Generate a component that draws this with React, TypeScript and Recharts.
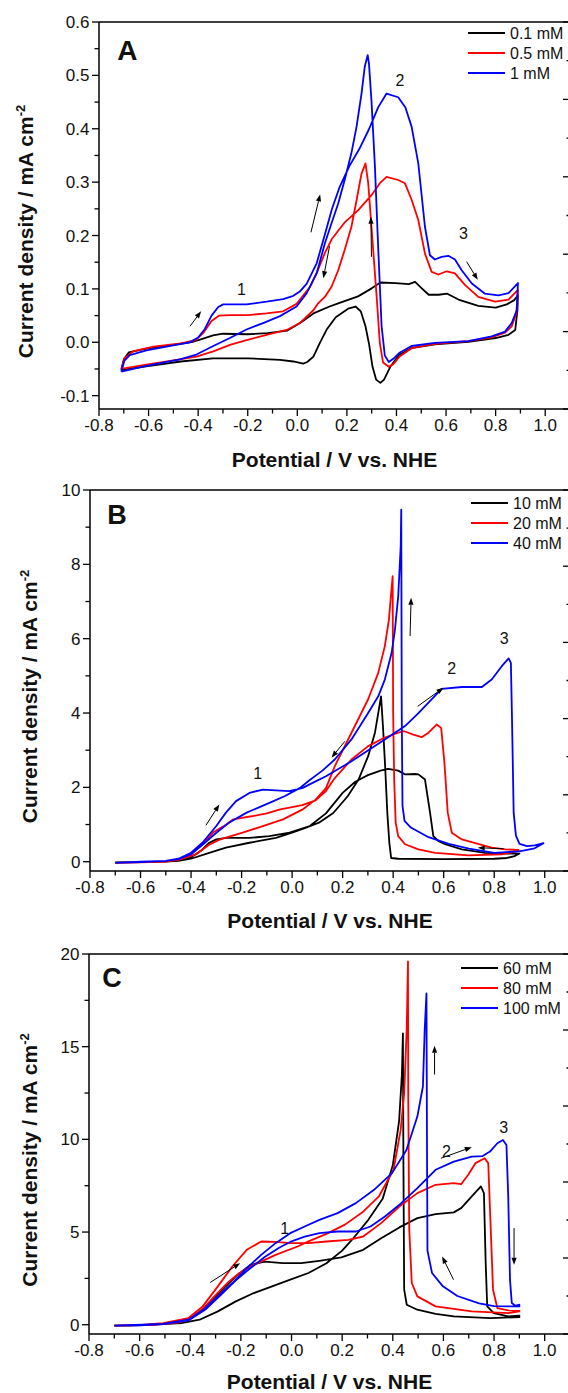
import React from "react";
import {
  LineChart,
  Line,
  XAxis,
  YAxis,
  Legend,
  ReferenceLine,
  ReferenceDot,
} from "recharts";

type Pt = [number, number];

// ---- panel A: 0.1 / 0.5 / 1 mM ----
const aBlack: Pt[] = [
  [-0.71, -0.052], [-0.7, -0.032], [-0.68, -0.019], [-0.61, -0.012], [-0.5, -0.005], [-0.42, 0.001],
  [-0.38, 0.007], [-0.34, 0.013], [-0.3, 0.016], [-0.2, 0.015], [-0.12, 0.017], [-0.04, 0.022],
  [0.011, 0.036], [0.065, 0.054], [0.13, 0.067], [0.165, 0.073], [0.245, 0.086], [0.3, 0.101],
  [0.335, 0.112], [0.395, 0.111], [0.45, 0.109], [0.475, 0.113], [0.5, 0.102], [0.53, 0.089],
  [0.57, 0.089], [0.605, 0.091], [0.65, 0.08], [0.73, 0.068], [0.8, 0.065], [0.845, 0.071],
  [0.875, 0.079], [0.89, 0.088],
  [0.888, 0.06], [0.879, 0.023], [0.852, 0.014], [0.8, 0.008], [0.69, 0.001], [0.555, -0.004],
  [0.46, -0.011], [0.41, -0.024], [0.375, -0.046], [0.35, -0.07], [0.335, -0.076], [0.318, -0.07],
  [0.303, -0.045], [0.29, -0.005], [0.275, 0.03], [0.256, 0.058], [0.235, 0.067], [0.205, 0.063],
  [0.155, 0.047], [0.12, 0.025], [0.09, -0.002], [0.065, -0.027], [0.04, -0.037], [0.024, -0.04],
  [-0.016, -0.036], [-0.07, -0.033], [-0.2, -0.03], [-0.34, -0.03], [-0.47, -0.036], [-0.61, -0.045],
  [-0.71, -0.052],
];
const aRed: Pt[] = [
  [-0.71, -0.05], [-0.697, -0.03], [-0.663, -0.017], [-0.58, -0.008], [-0.47, -0.002], [-0.41, 0.004],
  [-0.38, 0.017], [-0.346, 0.04], [-0.315, 0.05], [-0.27, 0.051], [-0.2, 0.051], [-0.124, 0.054],
  [-0.057, 0.058], [-0.003, 0.072], [0.05, 0.103], [0.08, 0.132], [0.11, 0.166], [0.14, 0.194],
  [0.19, 0.224], [0.245, 0.247], [0.3, 0.276], [0.333, 0.298], [0.36, 0.31], [0.407, 0.304],
  [0.434, 0.298], [0.461, 0.267], [0.488, 0.229], [0.515, 0.166], [0.542, 0.132], [0.569, 0.127],
  [0.603, 0.133], [0.636, 0.129], [0.677, 0.107], [0.73, 0.085], [0.798, 0.076], [0.852, 0.08],
  [0.89, 0.098],
  [0.884, 0.055], [0.865, 0.03], [0.838, 0.018], [0.784, 0.009], [0.69, 0.002], [0.555, -0.003],
  [0.461, -0.011], [0.414, -0.026], [0.387, -0.041], [0.369, -0.046], [0.346, -0.038], [0.333, -0.002],
  [0.319, 0.092], [0.299, 0.217], [0.286, 0.298], [0.275, 0.335], [0.259, 0.316], [0.239, 0.266],
  [0.218, 0.216], [0.191, 0.173], [0.165, 0.135], [0.138, 0.104], [0.111, 0.085], [0.084, 0.073],
  [0.065, 0.06], [0.01, 0.036], [-0.043, 0.023], [-0.124, 0.014], [-0.205, 0.004], [-0.272, -0.005],
  [-0.339, -0.017], [-0.407, -0.027], [-0.474, -0.032], [-0.609, -0.042], [-0.71, -0.05],
];
const aBlue: Pt[] = [
  [-0.71, -0.055], [-0.698, -0.035], [-0.676, -0.024], [-0.609, -0.015], [-0.5, -0.006], [-0.434, 0.0],
  [-0.4, 0.009], [-0.373, 0.025], [-0.346, 0.05], [-0.319, 0.066], [-0.299, 0.071], [-0.205, 0.071],
  [-0.124, 0.076], [-0.057, 0.081], [-0.016, 0.087], [0.01, 0.095], [0.038, 0.11], [0.078, 0.148],
  [0.11, 0.2], [0.14, 0.25], [0.17, 0.29], [0.21, 0.33], [0.25, 0.362], [0.29, 0.4], [0.326, 0.44],
  [0.36, 0.466], [0.407, 0.459], [0.436, 0.44], [0.461, 0.404], [0.488, 0.335], [0.515, 0.216],
  [0.535, 0.163], [0.555, 0.155], [0.582, 0.16], [0.609, 0.162], [0.636, 0.155], [0.663, 0.135],
  [0.704, 0.11], [0.757, 0.091], [0.811, 0.088], [0.852, 0.092], [0.89, 0.111],
  [0.885, 0.06], [0.865, 0.036], [0.838, 0.02], [0.784, 0.011], [0.69, 0.002], [0.555, -0.001],
  [0.461, -0.007], [0.414, -0.019], [0.387, -0.031], [0.369, -0.037], [0.353, -0.025], [0.34, 0.03],
  [0.326, 0.18], [0.313, 0.33], [0.299, 0.454], [0.289, 0.522], [0.284, 0.538], [0.272, 0.516],
  [0.259, 0.466], [0.239, 0.404], [0.218, 0.354], [0.191, 0.304], [0.165, 0.26], [0.138, 0.223],
  [0.111, 0.185], [0.078, 0.129], [0.038, 0.092], [-0.003, 0.067], [-0.07, 0.049], [-0.138, 0.036],
  [-0.205, 0.024], [-0.272, 0.008], [-0.339, -0.007], [-0.407, -0.023], [-0.474, -0.032],
  [-0.609, -0.044], [-0.71, -0.055],
];

// ---- panel B: 10 / 20 / 40 mM ----
const bBlack: Pt[] = [
  [-0.7, -0.02], [-0.6, -0.01], [-0.5, 0.0], [-0.45, 0.03], [-0.4, 0.12], [-0.36, 0.3], [-0.33, 0.5],
  [-0.3, 0.6], [-0.26, 0.64], [-0.17, 0.64], [-0.09, 0.69], [-0.01, 0.78], [0.07, 0.96], [0.134, 1.3],
  [0.2, 1.85], [0.25, 2.15], [0.3, 2.33], [0.35, 2.45], [0.38, 2.5], [0.42, 2.45], [0.447, 2.35],
  [0.486, 2.36], [0.5, 2.35], [0.526, 2.21], [0.546, 1.32], [0.559, 0.69], [0.58, 0.55], [0.606, 0.47],
  [0.672, 0.33], [0.764, 0.24], [0.85, 0.22], [0.9, 0.22],
  [0.88, 0.15], [0.85, 0.1], [0.8, 0.08], [0.6, 0.07], [0.42, 0.08], [0.392, 0.1], [0.385, 0.5],
  [0.377, 1.3], [0.368, 2.6], [0.36, 3.6], [0.352, 4.45], [0.341, 4.0], [0.328, 3.47], [0.301, 2.84],
  [0.263, 2.21], [0.22, 1.76], [0.163, 1.31], [0.106, 1.05], [0.05, 0.9], [0.0, 0.78], [-0.064, 0.64],
  [-0.169, 0.51], [-0.262, 0.38], [-0.328, 0.24], [-0.4, 0.08], [-0.45, 0.02], [-0.5, 0.0],
  [-0.6, -0.01], [-0.7, -0.02],
];
const bRed: Pt[] = [
  [-0.7, -0.03], [-0.6, -0.02], [-0.5, 0.0], [-0.45, 0.05], [-0.4, 0.2], [-0.35, 0.5], [-0.31, 0.8],
  [-0.272, 0.95], [-0.232, 1.14], [-0.2, 1.18], [-0.153, 1.23], [-0.1, 1.3], [-0.047, 1.41],
  [0.0, 1.47], [0.04, 1.52], [0.093, 1.65], [0.134, 1.9], [0.169, 2.25], [0.235, 2.75], [0.301, 3.11],
  [0.367, 3.34], [0.42, 3.47], [0.444, 3.51], [0.48, 3.42], [0.513, 3.35], [0.54, 3.47], [0.572, 3.69],
  [0.59, 3.6], [0.603, 2.66], [0.616, 1.32], [0.632, 0.78], [0.672, 0.6], [0.725, 0.5], [0.79, 0.38],
  [0.844, 0.33], [0.896, 0.32],
  [0.896, 0.29], [0.83, 0.2], [0.698, 0.17], [0.566, 0.24], [0.5, 0.33], [0.447, 0.47], [0.42, 0.69],
  [0.41, 1.05], [0.404, 2.21], [0.4, 4.0], [0.398, 7.68], [0.391, 7.14], [0.383, 6.5], [0.367, 5.8],
  [0.341, 5.08], [0.301, 4.37], [0.235, 3.47], [0.169, 2.57], [0.134, 1.98], [0.093, 1.67],
  [0.04, 1.4], [-0.036, 1.14], [-0.116, 0.96], [-0.196, 0.78], [-0.285, 0.6], [-0.33, 0.45],
  [-0.38, 0.2], [-0.45, 0.05], [-0.5, 0.0], [-0.6, -0.02], [-0.7, -0.03],
];
const bBlue: Pt[] = [
  [-0.7, -0.03], [-0.6, -0.01], [-0.5, 0.02], [-0.45, 0.08], [-0.4, 0.24], [-0.355, 0.51], [-0.3, 0.96],
  [-0.262, 1.32], [-0.222, 1.63], [-0.169, 1.85], [-0.116, 1.94], [-0.064, 1.92], [-0.012, 1.9],
  [0.04, 1.98], [0.093, 2.16], [0.134, 2.3], [0.235, 2.7], [0.367, 3.29], [0.447, 3.65], [0.5, 4.0],
  [0.592, 4.65], [0.672, 4.7], [0.751, 4.7], [0.79, 4.9], [0.83, 5.26], [0.857, 5.47], [0.866, 5.35],
  [0.87, 4.0], [0.877, 1.32], [0.886, 0.7], [0.9, 0.48], [0.93, 0.42], [0.96, 0.44], [0.995, 0.5],
  [0.96, 0.36], [0.9, 0.28], [0.8, 0.24], [0.7, 0.35], [0.62, 0.48], [0.54, 0.66], [0.47, 0.92],
  [0.445, 1.1], [0.437, 1.5], [0.434, 4.0], [0.432, 9.47], [0.43, 8.5], [0.42, 7.14], [0.407, 6.24],
  [0.394, 5.62], [0.367, 4.9], [0.341, 4.45], [0.301, 4.0], [0.235, 3.29], [0.169, 2.75], [0.12, 2.45],
  [0.07, 2.2], [0.03, 1.98], [-0.03, 1.76], [-0.074, 1.63], [-0.18, 1.32], [-0.25, 1.05], [-0.3, 0.78],
  [-0.35, 0.48], [-0.4, 0.2], [-0.45, 0.07], [-0.5, 0.02], [-0.6, 0.0], [-0.7, -0.03],
];

// ---- panel C: 60 / 80 / 100 mM ----
const cBlack: Pt[] = [
  [-0.7, -0.05], [-0.6, -0.03], [-0.507, 0.05], [-0.407, 0.27], [-0.337, 0.99], [-0.28, 1.8],
  [-0.22, 2.61], [-0.163, 3.23], [-0.106, 3.4], [-0.034, 3.32], [0.038, 3.32], [0.11, 3.45],
  [0.197, 3.63], [0.283, 4.04], [0.354, 4.67], [0.426, 5.25], [0.497, 5.75], [0.569, 5.97],
  [0.641, 6.06], [0.67, 6.29], [0.712, 6.92], [0.748, 7.46], [0.76, 7.1], [0.767, 3.32], [0.773, 0.99],
  [0.799, 0.63], [0.856, 0.45], [0.9, 0.49],
  [0.9, 0.41], [0.785, 0.36], [0.641, 0.45], [0.569, 0.59], [0.497, 0.81], [0.455, 1.08], [0.445, 1.89],
  [0.442, 8.7], [0.44, 15.72], [0.436, 13.5], [0.425, 11.0], [0.4, 8.6], [0.36, 6.8], [0.3, 5.6],
  [0.24, 4.6], [0.2, 4.0], [0.138, 3.32], [0.067, 2.79], [-0.005, 2.43], [-0.077, 2.07], [-0.149, 1.71],
  [-0.22, 1.26], [-0.291, 0.72], [-0.363, 0.27], [-0.435, 0.09], [-0.579, -0.02], [-0.7, -0.05],
];
const cRed: Pt[] = [
  [-0.7, -0.05], [-0.6, -0.02], [-0.507, 0.09], [-0.407, 0.36], [-0.351, 0.99], [-0.291, 2.07],
  [-0.234, 3.14], [-0.177, 4.04], [-0.12, 4.49], [-0.063, 4.47], [-0.005, 4.4], [0.067, 4.4],
  [0.138, 4.49], [0.225, 4.58], [0.283, 4.76], [0.354, 5.48], [0.426, 6.38], [0.497, 7.1],
  [0.569, 7.55], [0.641, 7.64], [0.67, 7.58], [0.698, 8.09], [0.727, 8.72], [0.763, 8.98],
  [0.777, 8.72], [0.787, 5.12], [0.796, 1.89], [0.813, 0.9], [0.856, 0.77], [0.9, 0.75],
  [0.9, 0.72], [0.856, 0.63], [0.712, 0.72], [0.569, 0.99], [0.497, 1.53], [0.475, 2.25], [0.465, 5.12],
  [0.461, 12.3], [0.46, 19.6], [0.455, 16.0], [0.445, 12.5], [0.431, 10.5], [0.403, 8.36],
  [0.345, 6.92], [0.283, 6.1], [0.211, 5.4], [0.138, 4.9], [0.067, 4.5], [0.024, 4.22], [-0.063, 3.77],
  [-0.149, 3.23], [-0.206, 2.79], [-0.25, 2.3], [-0.3, 1.6], [-0.35, 0.85], [-0.4, 0.3], [-0.45, 0.12],
  [-0.55, 0.0], [-0.7, -0.05],
];
const cBlue: Pt[] = [
  [-0.7, -0.05], [-0.6, -0.03], [-0.507, 0.04], [-0.407, 0.23], [-0.337, 0.85], [-0.28, 1.6],
  [-0.22, 2.4], [-0.163, 3.05], [-0.106, 3.65], [-0.049, 4.15], [0.0, 4.5], [0.052, 4.75],
  [0.11, 4.94], [0.182, 5.03], [0.254, 5.03], [0.312, 5.3], [0.369, 5.84], [0.426, 6.47],
  [0.497, 7.37], [0.569, 8.36], [0.641, 8.8], [0.712, 9.07], [0.755, 9.1], [0.784, 9.34],
  [0.813, 9.79], [0.835, 9.97], [0.849, 9.7], [0.856, 6.92], [0.863, 2.43], [0.87, 1.17],
  [0.884, 1.02], [0.9, 1.08],
  [0.9, 0.99], [0.8, 1.0], [0.741, 1.15], [0.655, 1.55], [0.598, 2.07], [0.555, 2.79], [0.537, 4.0],
  [0.535, 10.0], [0.533, 17.88], [0.526, 15.9], [0.519, 12.85], [0.497, 11.23], [0.454, 9.43],
  [0.397, 8.18], [0.326, 7.28], [0.254, 6.56], [0.182, 6.02], [0.11, 5.66], [0.052, 5.3],
  [-0.005, 4.94], [-0.063, 4.4], [-0.12, 3.77], [-0.177, 3.05], [-0.234, 2.25], [-0.291, 1.53],
  [-0.348, 0.81], [-0.407, 0.27], [-0.507, 0.04], [-0.7, -0.05],
];

const aNames = ["0.1 mM", "0.5 mM", "1 mM"];
const bNames = ["10 mM", "20 mM", "40 mM"];
const cNames = ["60 mM", "80 mM", "100 mM"];
const colors = ["#000000", "#ff0000", "#0000ff"];

const xTicks = [-0.8, -0.7, -0.6, -0.5, -0.4, -0.3, -0.2, -0.1, 0, 0.1, 0.2, 0.3, 0.4, 0.5, 0.6, 0.7, 0.8, 0.9, 1.0, 1.1];
const frameTicks = [0, 1, 2, 3, 4, 5, 6, 7, 8, 9, 10];
const aYTicks = [-0.1, -0.05, 0, 0.05, 0.1, 0.15, 0.2, 0.25, 0.3, 0.35, 0.4, 0.45, 0.5, 0.55, 0.6];
const bYTicks = [0, 1, 2, 3, 4, 5, 6, 7, 8, 9, 10];
const cYTicks = [0, 2.5, 5, 7.5, 10, 12.5, 15, 17.5, 20];

const FONT = '"Liberation Sans", Arial, Helvetica, sans-serif';

type Note = { x: number; y: number; text: string; size?: number; bold?: boolean };
type Arrow = [number, number, number, number];

const BottomTick = (p: any) => {
  const { x, y, payload } = p;
  const v = payload.value as number;
  const major = Math.round(v * 10) % 2 === 0;
  return (
    <g>
      <line x1={x} y1={y} x2={x} y2={y + (major ? 7 : 4.5)} stroke="#000" strokeWidth={1.3} />
      {major && (
        <text x={x} y={y + 22} textAnchor="middle" fontSize={17} fontFamily={FONT} fill="#111">
          {v.toFixed(1)}
        </text>
      )}
    </g>
  );
};

const makeLeftTick = (isMajor: (v: number) => boolean, fmt: (v: number) => string) => (p: any) => {
  const { x, y, payload } = p;
  const v = payload.value as number;
  const major = isMajor(v);
  return (
    <g>
      <line x1={x} y1={y} x2={x - (major ? 7 : 4.5)} y2={y} stroke="#000" strokeWidth={1.3} />
      {major && (
        <text x={x - 9.5} y={y} dy="0.36em" textAnchor="end" fontSize={17} fontFamily={FONT} fill="#111">
          {fmt(v)}
        </text>
      )}
    </g>
  );
};

const TopTick = (p: any) => (
  <line x1={p.x} y1={p.y} x2={p.x} y2={p.y + 6.5} stroke="#000" strokeWidth={1.3} />
);

const RightTick = (p: any) => {
  const major = p.payload.value % 2 === 0;
  return <line x1={p.x} y1={p.y} x2={p.x - (major ? 7 : 3.5)} y2={p.y} stroke="#000" strokeWidth={1.3} />;
};

const ArrowShape = (p: any) => {
  const { x1, y1, x2, y2 } = p;
  const a = Math.atan2(y2 - y1, x2 - x1);
  const c = Math.cos(a);
  const s = Math.sin(a);
  const bx = x2 - 7 * c;
  const by = y2 - 7 * s;
  const pts = `${x2},${y2} ${bx + 2.6 * s},${by - 2.6 * c} ${bx - 2.6 * s},${by + 2.6 * c}`;
  return (
    <g>
      <line x1={x1} y1={y1} x2={bx} y2={by} stroke="#000" strokeWidth={1} />
      <polygon points={pts} fill="#000" />
    </g>
  );
};

type PanelProps = {
  top: number;
  height: number;
  marginTop: number;
  xAxisHeight: number;
  xTitleDy: number;
  yAxisWidth: number;
  yDomain: [number, number];
  yTicks: number[];
  isMajorY: (v: number) => boolean;
  fmtY: (v: number) => string;
  series: Pt[][];
  names: string[];
  legendLeft: number;
  legendTop: number;
  notes: Note[];
  arrows: Arrow[];
  yTitleX: number;
};

const Panel = (props: PanelProps) => {
  const LeftTick = makeLeftTick(props.isMajorY, props.fmtY);
  return (
    <div style={{ position: "absolute", left: 0, top: props.top }}>
      <LineChart
        width={580}
        height={props.height}
        margin={{ top: props.marginTop - 1, right: 9, bottom: 0, left: 0 }}
      >
        <XAxis
          dataKey="x"
          type="number"
          domain={[-0.8, 1.1]}
          ticks={xTicks}
          interval={0}
          allowDataOverflow
          height={props.xAxisHeight}
          tickSize={0}
          tickMargin={0}
          tickLine={false}
          tick={BottomTick}
          axisLine={{ stroke: "#000", strokeWidth: 1.5 }}
          label={{
            content: (lp: any) => {
              const vb = lp.viewBox;
              return (
                <text
                  x={vb.x + vb.width / 2}
                  y={vb.y + props.xTitleDy}
                  textAnchor="middle"
                  fontSize={21}
                  fontWeight="bold"
                  fontFamily={FONT}
                  fill="#111"
                >
                  Potential / V vs. NHE
                </text>
              );
            },
          }}
        />
        <XAxis
          xAxisId="t"
          orientation="top"
          type="number"
          domain={[0, 10]}
          ticks={frameTicks}
          interval={0}
          allowDataOverflow
          height={1}
          tickSize={0}
          tickMargin={0}
          tickLine={false}
          tick={TopTick}
          axisLine={{ stroke: "#000", strokeWidth: 1.5 }}
        />
        <YAxis
          type="number"
          domain={props.yDomain}
          ticks={props.yTicks}
          interval={0}
          allowDataOverflow
          width={props.yAxisWidth}
          tickSize={0}
          tickMargin={0}
          tickLine={false}
          tick={LeftTick}
          axisLine={{ stroke: "#000", strokeWidth: 1.5 }}
          label={{
            content: (lp: any) => {
              const vb = lp.viewBox;
              const cy = vb.y + vb.height / 2 + 16;
              const bx = props.yTitleX;
              return (
                <text
                  x={bx}
                  y={cy}
                  transform={`rotate(-90 ${bx} ${cy})`}
                  textAnchor="middle"
                  fontSize={21}
                  fontWeight="bold"
                  fontFamily={FONT}
                  fill="#111"
                >
                  Current density / mA cm
                  <tspan dy={-8} fontSize={13}>
                    -2
                  </tspan>
                </text>
              );
            },
          }}
        />
        <YAxis
          yAxisId="r"
          orientation="right"
          type="number"
          domain={[0, 10]}
          ticks={frameTicks}
          interval={0}
          allowDataOverflow
          width={1}
          tickSize={0}
          tickMargin={0}
          tickLine={false}
          tick={RightTick}
          axisLine={{ stroke: "#000", strokeWidth: 1.5 }}
        />
        {props.series.map((pts, i) => (
          <Line
            key={props.names[i]}
            name={props.names[i]}
            data={pts.map(([x, y]) => ({ x, y }))}
            dataKey="y"
            type="linear"
            stroke={colors[i]}
            strokeWidth={1.8}
            strokeLinejoin="round"
            dot={false}
            activeDot={false}
            isAnimationActive={false}
          />
        ))}
        {props.arrows.map((a, i) => (
          <ReferenceLine
            key={"arr" + i}
            segment={[
              { x: a[0], y: a[1] },
              { x: a[2], y: a[3] },
            ]}
            ifOverflow="visible"
            shape={ArrowShape}
          />
        ))}
        {props.notes.map((n, i) => (
          <ReferenceDot
            key={"note" + i}
            x={n.x}
            y={n.y}
            r={0}
            ifOverflow="visible"
            shape={(sp: any) => (
              <text
                x={sp.cx}
                y={sp.cy}
                dy="0.36em"
                textAnchor="middle"
                fontSize={n.size ?? 16}
                fontWeight={n.bold ? "bold" : "normal"}
                fontFamily={FONT}
                fill="#111"
              >
                {n.text}
              </text>
            )}
          />
        ))}
        <Legend
          layout="vertical"
          align="center"
          verticalAlign="middle"
          wrapperStyle={{ left: props.legendLeft, top: props.legendTop, width: 110, height: 64 }}
          content={() => (
            <svg width={110} height={64} style={{ display: "block", overflow: "visible" }}>
              {props.names.map((name, i) => (
                <g key={name}>
                  <line x1={0} x2={37} y1={10 + 20 * i} y2={10 + 20 * i} stroke={colors[i]} strokeWidth={2} />
                  <text x={42} y={10 + 20 * i} dy="0.36em" fontSize={16} fontFamily={FONT} fill="#111">
                    {name}
                  </text>
                </g>
              ))}
            </svg>
          )}
        />
      </LineChart>
    </div>
  );
}

export default function App() {
  return (
    <div
      style={{
        position: "absolute",
        left: 0,
        top: 0,
        width: 568,
        height: 1393,
        overflow: "hidden",
        background: "#fff",
      }}
    >
      <Panel
        top={0}
        height={476}
        marginTop={22}
        xAxisHeight={67}
        xTitleDy={57.5}
        yAxisWidth={99}
        yDomain={[-0.125, 0.6]}
        yTicks={aYTicks}
        isMajorY={(v) => Math.round(v * 100) % 10 === 0}
        fmtY={(v) => v.toFixed(1)}
        series={[aBlack, aRed, aBlue]}
        names={aNames}
        legendLeft={468}
        legendTop={23}
        yTitleX={33}
        notes={[
          { x: -0.686, y: 0.547, text: "A", size: 28, bold: true },
          { x: -0.225, y: 0.099, text: "1" },
          { x: 0.414, y: 0.491, text: "2" },
          { x: 0.67, y: 0.205, text: "3" },
        ]}
        arrows={[
          [-0.433, 0.03, -0.388, 0.058],
          [0.055, 0.206, 0.092, 0.277],
          [0.13, 0.18, 0.105, 0.12],
          [0.299, 0.16, 0.297, 0.235],
          [0.683, 0.151, 0.728, 0.117],
        ]}
      />
      <Panel
        top={460}
        height={476}
        marginTop={30}
        xAxisHeight={65}
        xTitleDy={57}
        yAxisWidth={90}
        yDomain={[-0.25, 10]}
        yTicks={bYTicks}
        isMajorY={(v) => v % 2 === 0}
        fmtY={(v) => String(v)}
        series={[bBlack, bRed, bBlue]}
        names={bNames}
        legendLeft={471}
        legendTop={33}
        yTitleX={37}
        notes={[
          { x: -0.693, y: 9.36, text: "B", size: 27, bold: true },
          { x: -0.136, y: 2.39, text: "1" },
          { x: 0.632, y: 5.21, text: "2" },
          { x: 0.84, y: 6.02, text: "3" },
        ]}
        arrows={[
          [-0.341, 0.98, -0.288, 1.54],
          [0.209, 3.24, 0.156, 2.8],
          [0.467, 6.07, 0.471, 7.1],
          [0.497, 4.18, 0.599, 4.68],
          [0.837, 0.35, 0.735, 0.376],
        ]}
      />
      <Panel
        top={930}
        height={463}
        marginTop={24}
        xAxisHeight={59}
        xTitleDy={55}
        yAxisWidth={89}
        yDomain={[-0.5, 20]}
        yTicks={cYTicks}
        isMajorY={(v) => v % 5 === 0}
        fmtY={(v) => String(v)}
        series={[cBlack, cRed, cBlue]}
        names={cNames}
        legendLeft={461}
        legendTop={28}
        yTitleX={37}
        notes={[
          { x: -0.709, y: 18.73, text: "C", size: 27, bold: true },
          { x: -0.027, y: 5.21, text: "1" },
          { x: 0.612, y: 9.34, text: "2" },
          { x: 0.838, y: 10.66, text: "3" },
        ]}
        arrows={[
          [-0.321, 2.28, -0.203, 3.32],
          [0.565, 13.5, 0.565, 15.05],
          [0.59, 8.98, 0.712, 9.58],
          [0.64, 2.43, 0.595, 3.68],
          [0.879, 5.21, 0.879, 3.23],
        ]}
      />
    </div>
  );
}
